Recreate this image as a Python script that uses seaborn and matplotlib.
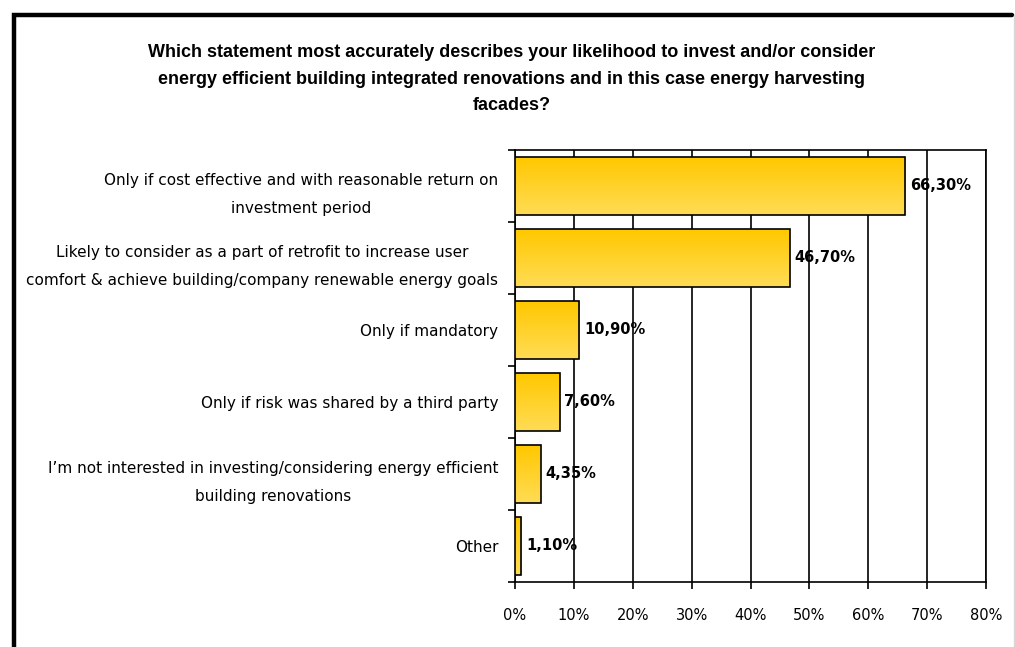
import numpy as np
import pandas as pd
import matplotlib
matplotlib.use("Agg")
import matplotlib.pyplot as plt
import matplotlib.ticker as mticker
from matplotlib.lines import Line2D
from matplotlib.colors import LinearSegmentedColormap
import seaborn as sns

# Datos
categorias = [
    "Only if cost effective and with reasonable return on\ninvestment period",
    "Likely to consider as a part of retrofit to increase user\ncomfort & achieve building/company renewable energy goals",
    "Only if mandatory",
    "Only if risk was shared by a third party",
    "I\u2019m not interested in investing/considering energy efficient\nbuilding renovations",
    "Other",
]
porcentajes = [66.30, 46.70, 10.90, 7.60, 4.35, 1.10]
ticks_x = [0, 10, 20, 30, 40, 50, 60, 70, 80]

titulo = ("Which statement most accurately describes your likelihood to invest and/or consider\n"
          "energy efficient building integrated renovations and in this case energy harvesting\n"
          "facades?")

df = pd.DataFrame({"categoria": categorias, "valor": porcentajes})

sns.set_theme(style="white")
plt.rcParams["font.family"] = ["DejaVu Sans"]
plt.rcParams["text.color"] = "black"

W, H = 1015, 647
fig = plt.figure(figsize=(W / 100, H / 100), dpi=100)
fig.patch.set_facecolor("white")
ax = fig.add_axes([515 / W, 1 - 582 / H, (986 - 515) / W, (582 - 150) / H])

sns.barplot(data=df, x="valor", y="categoria", orient="h", color="#FFD030",
            edgecolor="black", linewidth=1.2, width=0.8, ax=ax, zorder=3)

# Degradado en las barras
cmap = LinearSegmentedColormap.from_list("amarillo", ["#FFC800", "#FFDC55"])
grad = np.linspace(0, 1, 64).reshape(-1, 1)
for p in ax.patches:
    x0, y0 = p.get_x(), p.get_y()
    w, h = p.get_width(), p.get_height()
    im = ax.imshow(grad, cmap=cmap, aspect="auto", extent=(x0, x0 + w, y0 + h, y0),
                   zorder=3.5, origin="upper")
    im.set_clip_path(p)
    p.set_facecolor("none")
    p.set_zorder(4)

ax.set_xlim(0, 80)
ax.set_ylim(len(categorias) - 0.5, -0.5)
ax.set_xticks(ticks_x)
ax.xaxis.set_major_formatter(mticker.FuncFormatter(lambda v, _: f"{v:.0f}%"))
ax.set_xlabel("")
ax.set_ylabel("")

# Rejilla vertical negra
ax.grid(axis="x", color="black", linewidth=1.2, zorder=1)
ax.set_axisbelow(True)
for s in ax.spines.values():
    s.set_visible(True)
    s.set_color("black")
    s.set_linewidth(1.2)

# Marcas del eje Y entre categorias
ax.set_yticks(np.arange(-0.5, len(categorias), 1), minor=True)
ax.tick_params(axis="y", which="minor", length=5, width=1.2, color="black", direction="out", left=True)
ax.tick_params(axis="y", which="major", length=0, pad=12, labelsize=11, colors="black")
ax.tick_params(axis="x", which="major", length=5, width=1.2, color="black", direction="out",
               bottom=True, pad=14, labelsize=10.5, labelcolor="black")
for lab in ax.get_yticklabels():
    lab.set_multialignment("center")
    lab.set_linespacing(2.1)

# Etiquetas de valor
for i, v in enumerate(porcentajes):
    ax.text(v + 0.8, i, f"{v:.2f}".replace(".", ",") + "%", va="center", ha="left",
            fontsize=10.5, fontweight="bold", color="black", zorder=6)

fig.text(512 / W, 1 - 79 / H, titulo, ha="center", va="center", fontsize=13,
         fontweight="bold", family=["Liberation Sans", "DejaVu Sans"], linespacing=1.72,
         color="black")

# Marco de la figura
fig.add_artist(Line2D([14 / W, 14 / W, 1012 / W], [0, 1 - 15 / H, 1 - 15 / H],
                      transform=fig.transFigure, color="black", linewidth=3.2,
                      solid_joinstyle="miter"))
fig.add_artist(Line2D([1014 / W, 1014 / W], [0, 1 - 15 / H], transform=fig.transFigure,
                      color="#d8d8d8", linewidth=1))

fig.savefig("out.png", dpi=100, facecolor="white")
